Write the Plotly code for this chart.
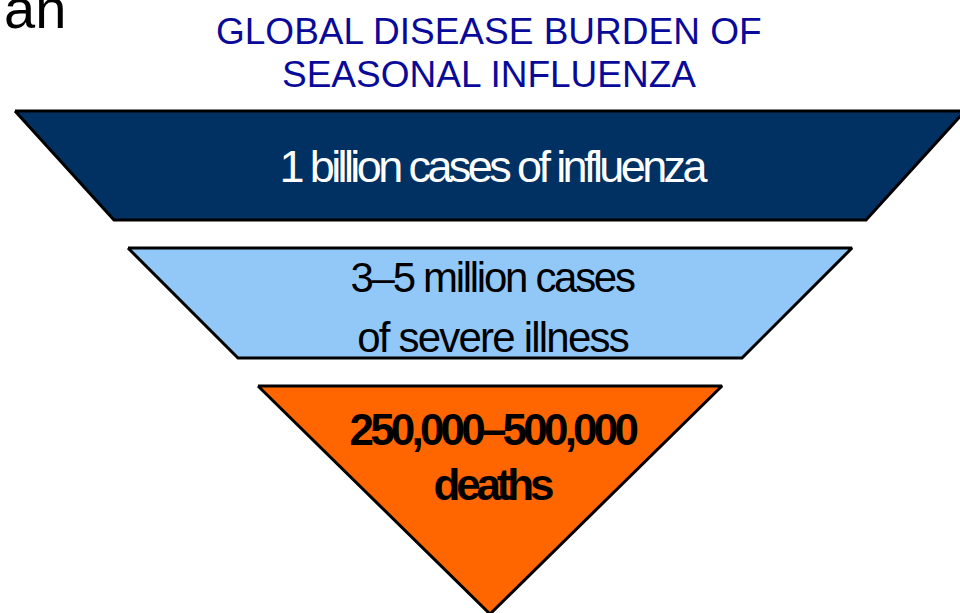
import json
import plotly.graph_objects as go

# ---- content -------------------------------------------------------------
title_lines = ["GLOBAL DISEASE BURDEN OF", "SEASONAL INFLUENZA"]
tier_labels = [
    ["1 billion cases of influenza"],
    ["3\u20135 million cases", "of severe illness"],
    ["250,000\u2013500,000", "deaths"],
]
tier_fill = ["#003162", "#91C8F8", "#FF6600"]
tier_text_color = ["#FFFFFF", "#000000", "#000000"]
tier_bold = [False, False, True]
corner_text = "an"

# ---- geometry (pixel space of a 960 x 613 canvas) -------------------------
W, H = 960, 613
CX = 490
# (top y, bottom y, top half-width, bottom half-width)
tier_geom = [
    (111, 220, 475, 376),
    (248, 358, 362, 252),
    (386, 614, 232, 0),
]
# per-line text centre y, font size, letter spacing (px)
tier_text_y = [[166.5], [277, 337.5], [429, 484]]
tier_font_size = [45, 42, 44]
tier_spacing = [[-3.6], [-2.3, -1.8], [-3.8, -4.2]]
TEXT_CX = 492

fig = go.Figure()

for (y0, y1, hw0, hw1), fill in zip(tier_geom, tier_fill):
    xs = [CX - hw0, CX + hw0, CX + hw1, CX - hw1, CX - hw0]
    ys = [y0, y0, y1, y1, y0]
    fig.add_trace(go.Scatter(
        x=xs, y=ys, mode="lines", fill="toself", fillcolor=fill,
        line=dict(color="#000000", width=3),
        hoverinfo="skip", showlegend=False,
    ))

annotations = []
spacing_map = {}
for lines, ys, size, sp, col, bold in zip(tier_labels, tier_text_y, tier_font_size,
                                          tier_spacing, tier_text_color, tier_bold):
    for txt, y, s in zip(lines, ys, sp):
        annotations.append(dict(
            x=TEXT_CX, y=y, xref="x", yref="y", text=txt, showarrow=False,
            xanchor="center", yanchor="middle",
            font=dict(family="Liberation Sans, Arial, sans-serif", size=size,
                      color=col, weight="bold" if bold else "normal"),
        ))
        spacing_map[txt] = s

title_y = [31, 74]
for txt, y in zip(title_lines, title_y):
    annotations.append(dict(
        x=489, y=y, xref="x", yref="y", text=txt, showarrow=False,
        xanchor="center", yanchor="middle",
        font=dict(family="Liberation Sans, Arial, sans-serif", size=37, color="#0A0A9A"),
    ))

annotations.append(dict(
    x=68, y=8, xref="x", yref="y", text=corner_text, showarrow=False,
    xanchor="right", yanchor="middle",
    font=dict(family="Liberation Sans, Arial, sans-serif", size=56, color="#000000"),
))

fig.update_layout(
    width=W, height=H,
    margin=dict(l=0, r=0, t=0, b=0),
    paper_bgcolor="#FFFFFF", plot_bgcolor="#FFFFFF",
    xaxis=dict(range=[0, W], visible=False, fixedrange=True),
    yaxis=dict(range=[H, 0], visible=False, fixedrange=True),
    annotations=annotations,
    showlegend=False,
)

# tighten the letter spacing of the tier captions
post = (
    "var sp = " + json.dumps(spacing_map) + ";"
    "var gd = document.getElementById('{plot_id}');"
    "gd.querySelectorAll('text.annotation-text').forEach(function(t){"
    "  var k = t.textContent; if (k in sp) { t.style.letterSpacing = sp[k] + 'px'; }"
    "});"
)

fig.write_html("out.html", config={"displayModeBar": False, "staticPlot": True},
               post_script=post)
